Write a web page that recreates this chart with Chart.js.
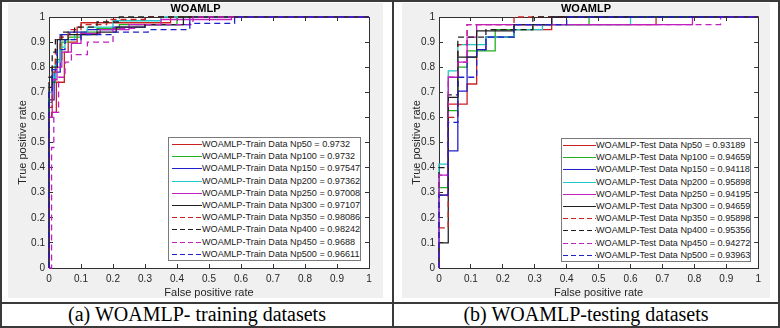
<!DOCTYPE html>
<html>
<head>
<meta charset="utf-8">
<script src="https://cdn.jsdelivr.net/npm/chart.js@4.4.1/dist/chart.umd.min.js"></script>
<style>
  body { margin: 0; width: 780px; height: 328px; background: #fff; position: relative; overflow: hidden; font-family: Arial, "Liberation Sans", sans-serif; }
  .rule { position: absolute; background: #3a3a3a; }
  .panel { position: absolute; top: 3px; height: 295px; background: #f0f0f0; }
  .panel canvas { display: block; }
  .legend { position: absolute; background: #fff; border: 1px solid #7a7a7a; box-sizing: border-box; font-size: 9.1px; color: #1a1a1a; padding-top: 0px; }
  .legend .row { height: 12.2px; display: flex; align-items: center; white-space: nowrap; }
  .legend svg { flex: none; }
  .caption { position: absolute; top: 303px; height: 23px; line-height: 23px; text-align: center; font-family: "Liberation Serif", "Times New Roman", serif; font-size: 20px; color: #000; }
</style>
</head>
<body>
<div class="panel" style="left:8px;width:375px">
  <canvas id="chartA" width="375" height="295"></canvas>
  <div class="legend" id="legendA" style="left:160px;top:134px;width:193px;height:124px"></div>
</div>
<div class="panel" style="left:402px;width:368px">
  <canvas id="chartB" width="368" height="295"></canvas>
  <div class="legend" id="legendB" style="left:159px;top:135px;width:190px;height:124px"></div>
</div>

<div class="rule" style="left:0;top:0;width:780px;height:2px"></div>
<div class="rule" style="left:0;top:326px;width:780px;height:2px"></div>
<div class="rule" style="left:0;top:0;width:2px;height:328px"></div>
<div class="rule" style="left:778px;top:0;width:2px;height:328px"></div>
<div class="rule" style="left:392px;top:0;width:2px;height:328px"></div>
<div class="rule" style="left:0;top:302px;width:780px;height:1.5px"></div>

<div class="caption" style="left:2px;width:390px">(a) WOAMLP- training datasets</div>
<div class="caption" style="left:394px;width:384px">(b) WOAMLP-testing datasets</div>

<script>
// series names and AUC values from the legends
var npValues = ['50', '100', '150', '200', '250', '300', '350', '400', '450', '500'];
var trainAuc = ['0.9732', '0.9732', '0.97547', '0.97362', '0.97008', '0.97107', '0.98086', '0.98242', '0.9688', '0.96611'];
var testAuc = ['0.93189', '0.94659', '0.94118', '0.95898', '0.94195', '0.94659', '0.95898', '0.95356', '0.94272', '0.93963'];

var tickLabels = ['0', '0.1', '0.2', '0.3', '0.4', '0.5', '0.6', '0.7', '0.8', '0.9', '1'];

// ROC corner points (false positive rate, true positive rate)
var trainFpr = [
  [0, 0, 0.008, 0.023, 0.048, 0.06, 0.088, 0.1, 0.38, 1],
  [0, 0, 0.01, 0.02, 0.04, 0.06, 0.1, 0.15, 0.22, 0.4, 1],
  [0, 0, 0.016, 0.035, 0.065, 0.12, 0.2, 0.3, 0.44, 1],
  [0, 0, 0.01, 0.02, 0.035, 0.05, 0.08, 0.12, 0.2, 0.35, 1],
  [0, 0, 0.01, 0.025, 0.04, 0.07, 0.1, 0.16, 0.25, 0.35, 0.57, 1],
  [0, 0, 0.01, 0.026, 0.06, 0.15, 0.21, 0.3, 0.42, 1],
  [0, 0, 0.01, 0.02, 0.035, 0.06, 0.1, 0.18, 0.3, 1],
  [0, 0, 0.01, 0.02, 0.04, 0.08, 0.15, 0.22, 1],
  [0, 0.008, 0.015, 0.03, 0.05, 0.07, 0.12, 0.2, 0.27, 0.45, 1],
  [0, 0, 0.01, 0.025, 0.05, 0.1, 0.2, 0.31, 0.44, 0.58, 1]
];
var trainTpr = [
  [0, 0.6, 0.62, 0.74, 0.86, 0.9, 0.96, 0.977, 1, 1],
  [0, 0.66, 0.74, 0.83, 0.9, 0.92, 0.94, 0.955, 0.97, 1, 1],
  [0, 0.67, 0.78, 0.93, 0.94, 0.95, 0.96, 0.97, 1, 1],
  [0, 0.7, 0.76, 0.82, 0.88, 0.91, 0.93, 0.96, 0.985, 1, 1],
  [0, 0.6, 0.75, 0.8, 0.86, 0.895, 0.935, 0.95, 0.97, 0.99, 1, 1],
  [0, 0.72, 0.8, 0.91, 0.93, 0.94, 0.96, 0.97, 1, 1],
  [0, 0.64, 0.78, 0.87, 0.92, 0.95, 0.97, 0.99, 1, 1],
  [0, 0.76, 0.86, 0.91, 0.94, 0.96, 0.98, 1, 1],
  [0, 0.48, 0.62, 0.76, 0.82, 0.85, 0.9, 0.955, 0.97, 1, 1],
  [0, 0.7, 0.79, 0.87, 0.91, 0.93, 0.94, 0.95, 0.975, 1, 1]
];
var testFpr = [
  [0, 0, 0.029, 0.088, 0.118, 0.147, 0.235, 0.353, 0.68, 1],
  [0, 0, 0.029, 0.059, 0.088, 0.176, 0.294, 0.47, 1],
  [0, 0, 0.029, 0.059, 0.088, 0.118, 0.147, 0.235, 0.353, 1],
  [0, 0, 0.029, 0.059, 0.147, 0.235, 0.324, 0.6, 1],
  [0, 0, 0.029, 0.059, 0.088, 0.118, 0.794, 1],
  [0, 0, 0.029, 0.059, 0.118, 0.235, 0.353, 1],
  [0, 0, 0.029, 0.059, 0.088, 0.235, 1],
  [0, 0, 0.029, 0.059, 0.147, 0.294, 1],
  [0, 0, 0.029, 0.059, 0.088, 0.882, 1],
  [0, 0, 0.029, 0.059, 0.118, 0.147, 0.235, 0.4, 1]
];
var testTpr = [
  [0, 0.29, 0.653, 0.733, 0.87, 0.92, 0.95, 0.97, 1, 1],
  [0, 0.32, 0.627, 0.8, 0.865, 0.95, 0.97, 1, 1],
  [0, 0.29, 0.467, 0.705, 0.84, 0.87, 0.92, 0.97, 1, 1],
  [0, 0.414, 0.785, 0.89, 0.92, 0.95, 0.97, 1, 1],
  [0, 0.37, 0.76, 0.82, 0.92, 0.97, 1, 1],
  [0, 0.1, 0.68, 0.84, 0.945, 0.97, 1, 1],
  [0, 0.16, 0.6, 0.89, 0.97, 1, 1],
  [0, 0.4, 0.69, 0.92, 0.95, 1, 1],
  [0, 0.37, 0.76, 0.82, 0.97, 1, 1],
  [0, 0.29, 0.58, 0.76, 0.87, 0.92, 0.97, 1, 1]
];

// line styles
var seriesColors = ['#cc2020', '#20b020', '#2020c8', '#20c8c8', '#c020c0', '#202020', '#cc2020', '#202020', '#c020c0', '#2020c8'];
var seriesDashed = [false, false, false, false, false, false, true, true, true, true];

var axisColor = '#303030';

// white plot box on the grey figure background
var plotBg = {
  id: 'plotBg',
  beforeDraw: function (chart) {
    var a = chart.chartArea, ctx = chart.ctx;
    ctx.save();
    ctx.fillStyle = '#fff';
    ctx.fillRect(a.left, a.top, a.width, a.height);
    ctx.restore();
  }
};

function makeDatasets(fprs, tprs, prefix, aucs) {
  return npValues.map(function (np, i) {
    return {
      label: prefix + np + ' = ' + aucs[i],
      data: fprs[i].map(function (x, j) { return { x: x, y: tprs[i][j] }; }),
      borderColor: seriesColors[i],
      borderWidth: 1.3,
      borderDash: seriesDashed[i] ? [6, 4] : [],
      stepped: 'before',
      pointRadius: 0,
      fill: false,
      clip: 3,
      order: 10 - i
    };
  });
}

function axis(pos, size, showLabels, title, titlePad) {
  var horizontal = pos === 'bottom' || pos === 'top';
  return {
    type: 'linear',
    position: pos,
    min: 0,
    max: 1,
    afterFit: function (s) {
      if (horizontal) { s.height = size; } else { s.width = size; }
    },
    ticks: {
      display: showLabels,
      stepSize: 0.1,
      autoSkip: false,
      maxRotation: 0,
      color: '#262626',
      font: { size: 10, family: 'Arial, "Liberation Sans", sans-serif' },
      padding: horizontal ? 9 : 8,
      callback: function (v, i) { return tickLabels[i]; }
    },
    grid: { drawOnChartArea: false, tickLength: -4, color: axisColor },
    border: { color: axisColor, width: 1 },
    title: {
      display: !!title,
      text: title || '',
      color: '#262626',
      font: { size: 11, lineHeight: 1, family: 'Arial, "Liberation Sans", sans-serif' },
      padding: titlePad || 0
    }
  };
}

function makeChart(canvasId, legendId, fprs, tprs, prefix, aucs, leftWidth, rightWidth, sampleWidth) {
  var chart = new Chart(document.getElementById(canvasId), {
    type: 'line',
    data: { datasets: makeDatasets(fprs, tprs, prefix, aucs) },
    options: {
      responsive: false,
      animation: false,
      devicePixelRatio: 1,
      layout: { padding: 0 },
      plugins: {
        legend: { display: false },
        tooltip: { enabled: false },
        title: {
          display: true,
          text: 'WOAMLP',
          color: '#000',
          font: { size: 11, weight: 'bold', lineHeight: 1, family: 'Arial, "Liberation Sans", sans-serif' },
          padding: { top: 0, bottom: 3 }
        }
      },
      scales: {
        x: axis('bottom', 30, true, 'False positive rate', { top: 0, bottom: 0 }),
        y: axis('left', leftWidth, true, 'True positive rate', { top: 9, bottom: 0 }),
        x2: axis('top', 0, false),
        y2: axis('right', rightWidth, false)
      }
    },
    plugins: [plotBg]
  });

  // MATLAB style legend box in the lower right of the axes
  var box = document.getElementById(legendId);
  chart.data.datasets.forEach(function (ds) {
    var row = document.createElement('div');
    row.className = 'row';
    var dash = ds.borderDash.length ? ' stroke-dasharray="5,3"' : '';
    row.innerHTML = '<svg width="' + sampleWidth + '" height="12" style="margin-left:' + (sampleWidth === 30 ? 3 : 1) + 'px">' +
      '<line x1="0" y1="6.5" x2="' + sampleWidth + '" y2="6.5" stroke="' + ds.borderColor + '" stroke-width="1"' + dash + '/></svg>' +
      '<span>' + ds.label + '</span>';
    box.appendChild(row);
  });
  return chart;
}

makeChart('chartA', 'legendA', trainFpr, trainTpr, 'WOAMLP-Train Data Np', trainAuc, 41, 14, 30);
makeChart('chartB', 'legendB', testFpr, testTpr, 'WOAMLP-Test Data Np', testAuc, 37, 11, 33);
</script>
</body>
</html>
